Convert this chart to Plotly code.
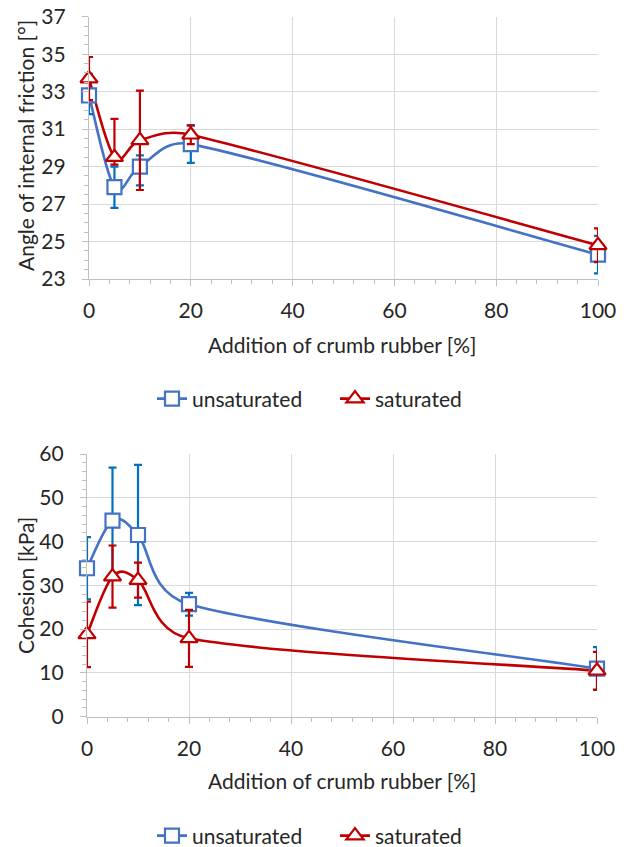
import math
import plotly.graph_objects as go

# ---- data ----
x_add = [0, 5, 10, 20, 100]

phi_unsat = [32.8, 27.9, 29.0, 30.2, 24.3]
phi_unsat_plus = [1.15, 1.1, 0.6, 1.0, 1.0]
phi_unsat_minus = [1.0, 1.1, 1.0, 1.0, 1.0]

phi_sat = [33.7, 29.5, 30.4, 30.7, 24.8]
phi_sat_plus = [1.15, 2.05, 2.65, 0.5, 0.9]
phi_sat_minus = [1.15, 0.4, 2.65, 0.5, 0.9]

c_unsat = [33.9, 44.8, 41.5, 25.7, 11.0]
c_unsat_err = [7.1, 12.1, 16.0, 2.6, 4.9]

c_sat = [18.8, 32.0, 31.2, 17.9, 10.5]
c_sat_err = [7.5, 7.1, 4.0, 6.5, 4.3]

series_names = ["unsaturated", "saturated"]
x_ticks = [0, 20, 40, 60, 80, 100]

BLUE = "#4472C4"
BLUE_ERR = "#0070C0"
RED = "#C00000"
GRID = "#D9D9D9"
AXIS = "#BFBFBF"
TXT = "#262626"
FONT = "Lato"
FS = 21

W, H = 627, 847

# plot-area boxes in pixels (left, right, top, bottom)
TOP_BOX = (89, 598, 16.7, 279)
BOT_BOX = (87, 597, 454, 716.7)
TOP_YR = (23, 37)
BOT_YR = (0, 60)
XR = (0, 100)


def px_x(p):
    return p / W


def px_y(p):
    return 1 - p / H


def smooth_path(xs, ys, box, yr):
    """Excel-style smoothed line as cubic Bezier path in data coordinates."""
    kx = (box[1] - box[0]) / (XR[1] - XR[0])
    ky = (box[3] - box[2]) / (yr[1] - yr[0])
    pts = [(x * kx, y * ky) for x, y in zip(xs, ys)]
    n = len(pts)

    def clamp(v, seg):
        L = math.hypot(*v)
        lim = seg / 2.0
        if L > lim and L > 0:
            return (v[0] * lim / L, v[1] * lim / L)
        return v

    d = "M {:.4f},{:.4f}".format(xs[0], ys[0])
    for i in range(n - 1):
        p0 = pts[i - 1] if i > 0 else pts[i]
        p1 = pts[i]
        p2 = pts[i + 1]
        p3 = pts[i + 2] if i + 2 < n else pts[i + 1]
        seg = math.hypot(p2[0] - p1[0], p2[1] - p1[1])
        t1 = clamp(((p2[0] - p0[0]) / 6, (p2[1] - p0[1]) / 6), seg)
        t2 = clamp(((p3[0] - p1[0]) / 6, (p3[1] - p1[1]) / 6), seg)
        c1 = (p1[0] + t1[0], p1[1] + t1[1])
        c2 = (p2[0] - t2[0], p2[1] - t2[1])
        d += " C {:.4f},{:.4f} {:.4f},{:.4f} {:.4f},{:.4f}".format(
            c1[0] / kx, c1[1] / ky, c2[0] / kx, c2[1] / ky, xs[i + 1], ys[i + 1])
    return d


fig = go.Figure()
shapes = []


def add_series(x, y, plus, minus, name, color, ecolor, symbol, xa, ya, legend, box, yr):
    marker = dict(symbol=symbol, size=14 if symbol == "square" else 15,
                  color="white", line=dict(color=color, width=2.2))
    shapes.append(dict(type="path", path=smooth_path(x, y, box, yr), xref=xa, yref=ya,
                       line=dict(color=color, width=2.6), layer="between"))
    fig.add_trace(go.Scatter(
        x=x, y=y, name=name, mode="markers",
        xaxis=xa, yaxis=ya, showlegend=False, cliponaxis=False,
        marker=marker,
        error_y=dict(type="data", array=plus, arrayminus=minus, symmetric=False,
                     color=ecolor, thickness=2.2, width=4),
    ))
    # legend entry (line + marker), no data drawn
    fig.add_trace(go.Scatter(
        x=[None], y=[None], name=name, mode="lines+markers",
        xaxis=xa, yaxis=ya, legend=legend,
        line=dict(color=color, width=2.6), marker=marker,
    ))


add_series(x_add, phi_unsat, phi_unsat_plus, phi_unsat_minus, series_names[0], BLUE, BLUE_ERR,
           "square", "x", "y", "legend", TOP_BOX, TOP_YR)
add_series(x_add, phi_sat, phi_sat_plus, phi_sat_minus, series_names[1], RED, RED,
           "triangle-up", "x", "y", "legend", TOP_BOX, TOP_YR)
add_series(x_add, c_unsat, c_unsat_err, c_unsat_err, series_names[0], BLUE, BLUE_ERR,
           "square", "x2", "y2", "legend2", BOT_BOX, BOT_YR)
add_series(x_add, c_sat, c_sat_err, c_sat_err, series_names[1], RED, RED,
           "triangle-up", "x2", "y2", "legend2", BOT_BOX, BOT_YR)

common_axis = dict(
    showline=True, linecolor=AXIS, linewidth=1.3,
    showgrid=True, gridcolor=GRID, gridwidth=1.3,
    ticks="outside", ticklen=6, tickcolor=AXIS, tickwidth=1.3,
    tickfont=dict(family=FONT, size=FS, color=TXT),
    zeroline=False, fixedrange=True, automargin=False,
)

xaxis_common = dict(common_axis, range=list(XR), tickvals=x_ticks,
                    ticklabelstandoff=7,
                    minor=dict(ticks="outside", ticklen=4, dtick=4, tick0=0,
                               tickcolor=AXIS, showgrid=False))

legend_common = dict(orientation="h", xanchor="left", yanchor="middle",
                     font=dict(family=FONT, size=FS, color=TXT), bgcolor="rgba(0,0,0,0)",
                     itemwidth=30, tracegroupgap=0, entrywidth=138, entrywidthmode="pixels")

fig.update_layout(
    width=W, height=H,
    margin=dict(l=0, r=0, t=0, b=0, autoexpand=False),
    paper_bgcolor="white", plot_bgcolor="white",
    font=dict(family=FONT, size=FS, color=TXT),
    xaxis=dict(xaxis_common, domain=[px_x(TOP_BOX[0]), px_x(TOP_BOX[1])], anchor="y"),
    yaxis=dict(common_axis, domain=[px_y(TOP_BOX[3]), px_y(TOP_BOX[2])], anchor="x",
               range=list(TOP_YR), dtick=2, tick0=23, ticklabelstandoff=12,
               minor=dict(ticks="outside", ticklen=4, dtick=0.5, tick0=23,
                          tickcolor=AXIS, showgrid=False)),
    xaxis2=dict(xaxis_common, domain=[px_x(BOT_BOX[0]), px_x(BOT_BOX[1])], anchor="y2"),
    yaxis2=dict(common_axis, domain=[px_y(BOT_BOX[3]), px_y(BOT_BOX[2])], anchor="x2",
                range=list(BOT_YR), dtick=10, tick0=0, ticklabelstandoff=12,
                minor=dict(ticks="outside", ticklen=4, dtick=2, tick0=0,
                           tickcolor=AXIS, showgrid=False)),
    legend=dict(legend_common, x=px_x(152), y=px_y(399)),
    legend2=dict(legend_common, x=px_x(152), y=px_y(836)),
    shapes=shapes,
    annotations=[
        dict(text="Addition of crumb rubber [%]", x=px_x(342), y=px_y(344), xref="paper", yref="paper",
             showarrow=False, xanchor="center", yanchor="middle", font=dict(family=FONT, size=FS, color=TXT)),
        dict(text="Addition of crumb rubber [%]", x=px_x(342), y=px_y(780), xref="paper", yref="paper",
             showarrow=False, xanchor="center", yanchor="middle", font=dict(family=FONT, size=FS, color=TXT)),
        dict(text="Angle of internal friction [°]", x=px_x(25), y=px_y(146), xref="paper", yref="paper",
             showarrow=False, xanchor="center", yanchor="middle", textangle=-90,
             font=dict(family=FONT, size=FS, color=TXT)),
        dict(text="Cohesion [kPa]", x=px_x(25), y=px_y(586), xref="paper", yref="paper",
             showarrow=False, xanchor="center", yanchor="middle", textangle=-90,
             font=dict(family=FONT, size=FS, color=TXT)),
    ],
)

fig.write_html(
    "out.html",
    config={"displayModeBar": False},
    post_script="document.body.style.margin='0';document.body.style.overflow='hidden';",
)
